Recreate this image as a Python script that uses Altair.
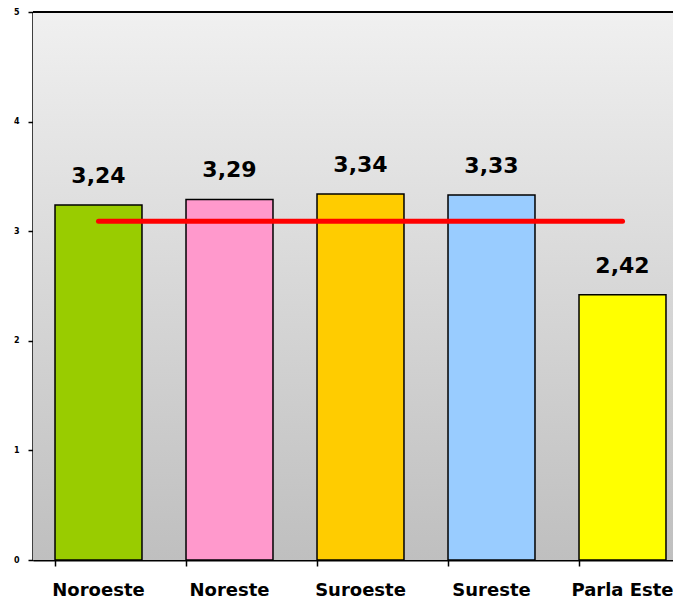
import altair as alt
import pandas as pd

categories = ["Noroeste", "Noreste", "Suroeste", "Sureste", "Parla Este"]
values = [3.24, 3.29, 3.34, 3.33, 2.42]
colors = ["#99CC00", "#FF99CC", "#FFCC00", "#99CCFF", "#FFFF00"]
average = 3.09

df = pd.DataFrame({
    "cat": categories,
    "val": values,
    "label": [f"{v:.2f}".replace(".", ",") for v in values],
})
avg_df = pd.DataFrame({"cat": [categories[0], categories[-1]], "val": [average, average]})

W, H = 640, 548
XR = 655
font = "DejaVu Sans"

xs = alt.X("cat:N", sort=categories, title=None,
           scale=alt.Scale(paddingInner=0.336, paddingOuter=0.168, range=[0, XR]),
           axis=alt.Axis(labelAngle=0, labelFont=font, labelFontSize=18, labelFontWeight="bold",
                         labelColor="black", labelPadding=15, tickSize=6, tickColor="black",
                         tickWidth=1.5, domainColor="black", domainWidth=2, bandPosition=0))
ys = alt.Y("val:Q", title=None,
           scale=alt.Scale(domain=[0, 5], nice=False),
           axis=alt.Axis(values=[0, 1, 2, 3, 4, 5], format="d", grid=False, labelFont=font,
                         labelFontSize=8, labelFontWeight="bold", labelColor="black",
                         labelPadding=9, tickSize=5, tickColor="black", tickWidth=1.5,
                         domainColor="black", domainWidth=2.5))

bg = alt.Chart(pd.DataFrame({"a": [0]})).mark_rect(
    fill=alt.Gradient(gradient="linear", x1=0, y1=0, x2=0, y2=1,
                      stops=[alt.GradientStop(color="#f0f0f0", offset=0),
                             alt.GradientStop(color="#bfbfbf", offset=1)])
).encode(x=alt.value(0), x2=alt.value(W), y=alt.value(0), y2=alt.value(H))

bars = alt.Chart(df).mark_bar(stroke="black", strokeWidth=1.5).encode(
    x=xs, y=ys,
    color=alt.Color("cat:N", sort=categories,
                    scale=alt.Scale(domain=categories, range=colors), legend=None),
)

text = alt.Chart(df).mark_text(font=font, fontSize=22, fontWeight="bold", dy=-17,
                               baseline="bottom", color="black").encode(
    x=alt.X("cat:N", sort=categories), y="val:Q", text="label:N")

line = alt.Chart(avg_df).mark_line(color="#FF0000", strokeWidth=5, strokeCap="round").encode(
    x=alt.X("cat:N", sort=categories), y="val:Q")

topline = alt.Chart(pd.DataFrame({"a": [0]})).mark_rule(color="black", strokeWidth=2).encode(
    x=alt.value(0), x2=alt.value(W), y=alt.value(0))

chart = alt.layer(bg, bars, line, text, topline).properties(
    width=W, height=H,
    autosize=alt.AutoSizeParams(type="none"),
    padding={"left": 25, "top": 4, "right": 0, "bottom": 40},
).configure_view(strokeWidth=0).configure(background="white")

chart.save("out.html", embed_options={"renderer": "svg", "actions": False})
